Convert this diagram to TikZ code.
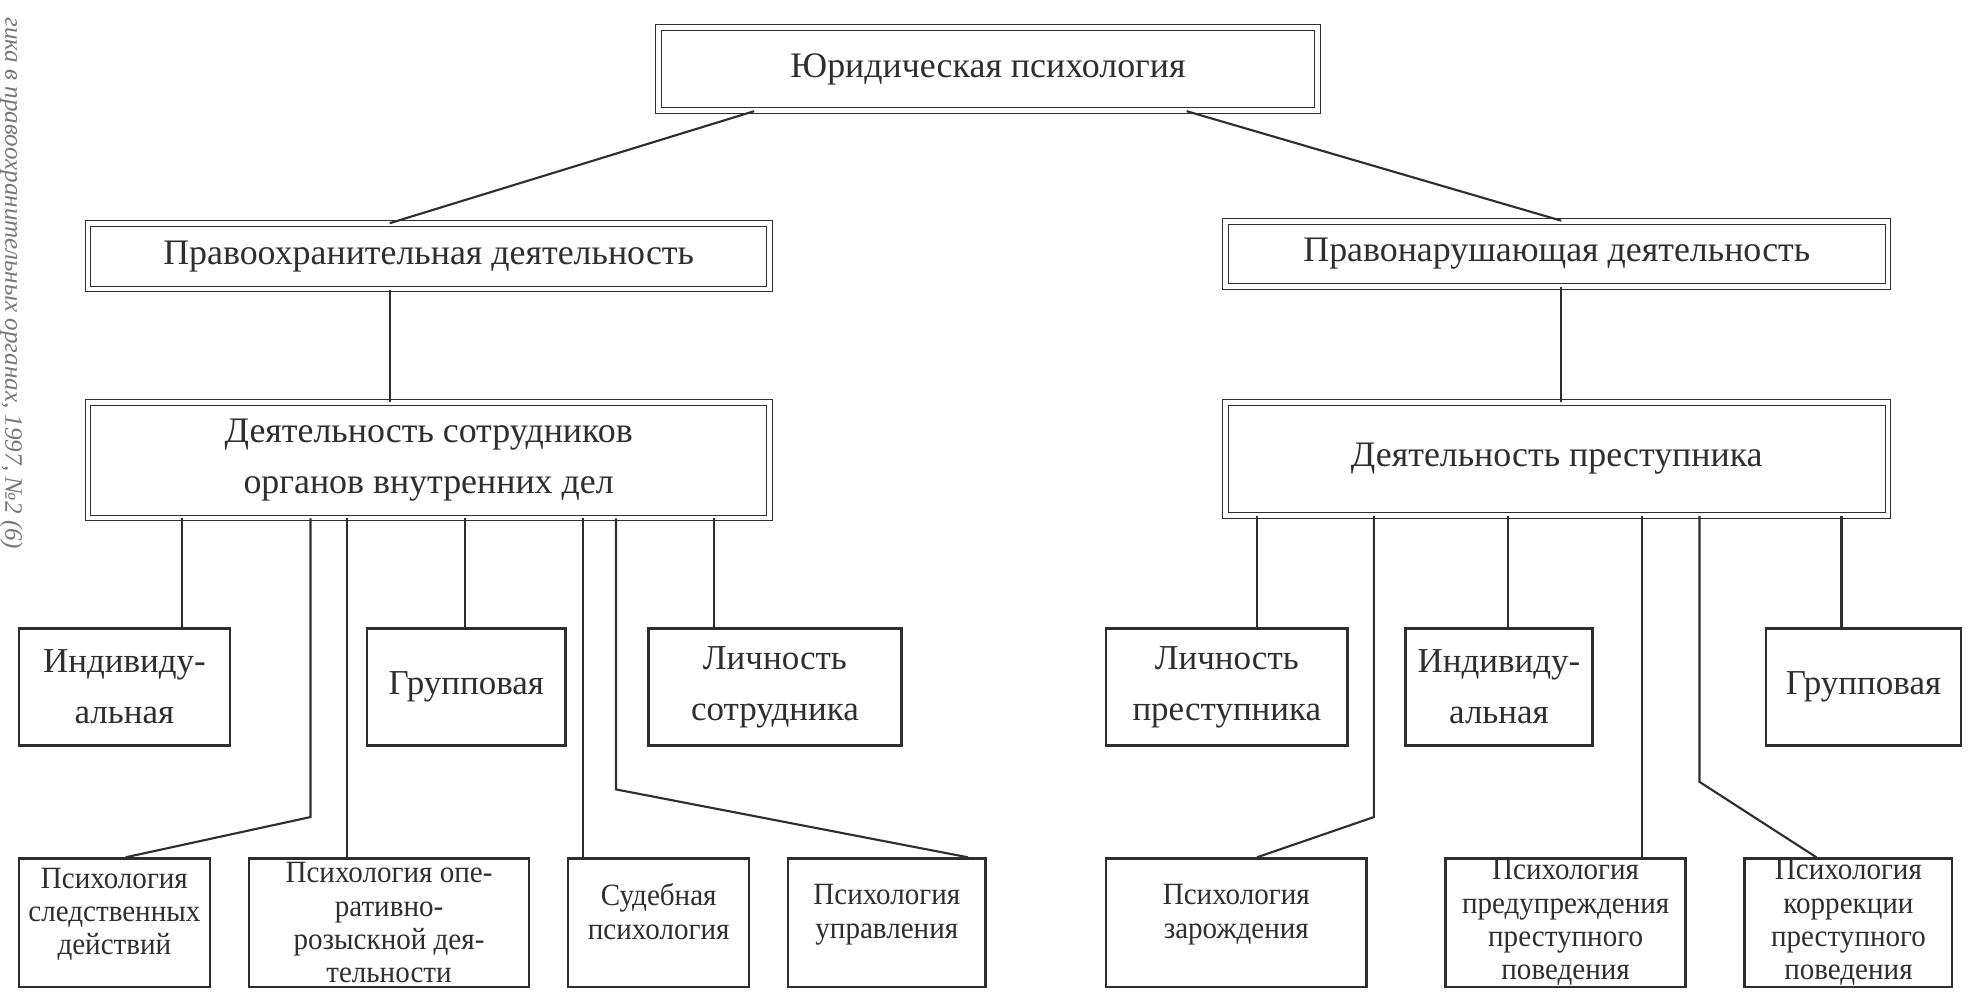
\documentclass[tikz,border=0pt]{standalone}
\usepackage{fontspec}
\setmainfont{Liberation Serif}
\newfontfamily\narrowf{Liberation Serif}[FakeStretch=0.94]
\colorlet{ink}{black!82}

\begin{document}
\begin{tikzpicture}[x=0.025cm, y=-0.025cm]
  \tikzset{
    dbox/.style={draw=ink, double, double distance=2.6pt, line width=0.6pt,
      inner sep=0pt, align=center, text=ink, font=\fontsize{20.3}{29}\selectfont},
    sbox/.style={draw=ink, line width=1.4pt, inner sep=0pt, align=center, text=ink},
    midbox/.style={sbox, minimum height=2.325cm, font=\fontsize{19.8}{29}\selectfont},
    lowbox/.style={sbox, minimum height=2.55cm, font=\narrowf\fontsize{17.5}{18.8}\selectfont},
    link/.style={draw=ink, line width=1.2pt},
  }
  \useasboundingbox (0,0) rectangle (1568,789);

  % margin of the scanned page
  \node[rotate=-90, anchor=east, text=ink!65, font=\itshape\fontsize{14.2}{14.2}\selectfont]
    (margin) at (9,442) {гика в правоохранительных органах, 1997, №2 (6)};

  % upper levels
  \node[dbox, minimum width=13.1cm, minimum height=1.65cm] (top) at (786,55) {Юридическая психология};
  \node[dbox, minimum width=13.55cm, minimum height=1.3cm] (l1l) at (341,204) {Правоохранительная деятельность};
  \node[dbox, minimum width=13.175cm, minimum height=1.3cm] (l1r) at (1238.5,202) {Правонарушающая деятельность};
  \node[dbox, minimum width=13.55cm, minimum height=2.3cm] (l2l) at (341,366) {Деятельность сотрудников\\органов внутренних дел};
  \node[dbox, minimum width=13.175cm, minimum height=2.25cm] (l2r) at (1238.5,365) {Деятельность преступника};

  % middle row
  \node[midbox, minimum width=4.2cm] (ind1) at (99,546.5) {Индивиду-\\альная};
  \node[midbox, minimum width=3.95cm] (grp1) at (371,546.5) {Групповая};
  \node[midbox, minimum width=5.025cm] (lich1) at (616.5,546.5) {Личность\\сотрудника};
  \node[midbox, minimum width=4.8cm] (lich2) at (976,546.5) {Личность\\преступника};
  \node[midbox, minimum width=3.725cm] (ind2) at (1192.5,546.5) {Индивиду-\\альная};
  \node[midbox, minimum width=3.875cm] (grp2) at (1482.5,546.5) {Групповая};

  % lower row
  \node[lowbox, minimum width=3.8cm] (sled) at (91,734) {Психология\\следственных\\действий\\[-6pt]\mbox{}};
  \node[lowbox, minimum width=5.575cm] (oper) at (309.5,734) {Психология опе-\\ративно-\\розыскной дея-\\тельности};
  \node[lowbox, minimum width=3.6cm] (sud) at (524,734) {Судебная\\психология\\[-6pt]\mbox{}};
  \node[lowbox, minimum width=3.925cm] (upr) at (705.5,734) {Психология\\управления\\[-6pt]\mbox{}};
  \node[lowbox, minimum width=5.175cm] (zar) at (983.5,734) {Психология\\зарождения\\[-6pt]\mbox{}};
  \node[lowbox, minimum width=4.775cm] (pred) at (1245.5,734) {Психология\\предупреждения\\преступного\\поведения};
  \node[lowbox, minimum width=4.125cm] (korr) at (1470.5,734) {Психология\\коррекции\\преступного\\поведения};

  % connectors
  \draw[link] (top.south -| 600,0) -- (l1l.north -| 310,0);
  \draw[link] (top.south -| 944,0) -- (l1r.north -| 1242,0);
  \draw[link] (l1l.south -| 310,0) -- (l2l.north -| 310,0);
  \draw[link] (l1r.south -| 1242,0) -- (l2r.north -| 1242,0);

  \foreach \x/\n in {145/ind1, 276/oper, 370/grp1, 464/sud, 568/lich1}
    \draw[link] (l2l.south -| \x,0) -- (\n.north -| \x,0);
  \draw[link] (l2l.south -| 247,0) -- (247,650) -- (sled.north -| 100,0);
  \draw[link] (l2l.south -| 490,0) -- (490,628) -- (upr.north -| 770,0);

  \foreach \x/\n in {1000/lich2, 1200/ind2, 1306/pred, 1465/grp2}
    \draw[link] (l2r.south -| \x,0) -- (\n.north -| \x,0);
  \draw[link] (l2r.south -| 1093,0) -- (1093,650) -- (zar.north -| 1000,0);
  \draw[link] (l2r.south -| 1352,0) -- (1352,622) -- (korr.north -| 1445,0);
\end{tikzpicture}
\end{document}
